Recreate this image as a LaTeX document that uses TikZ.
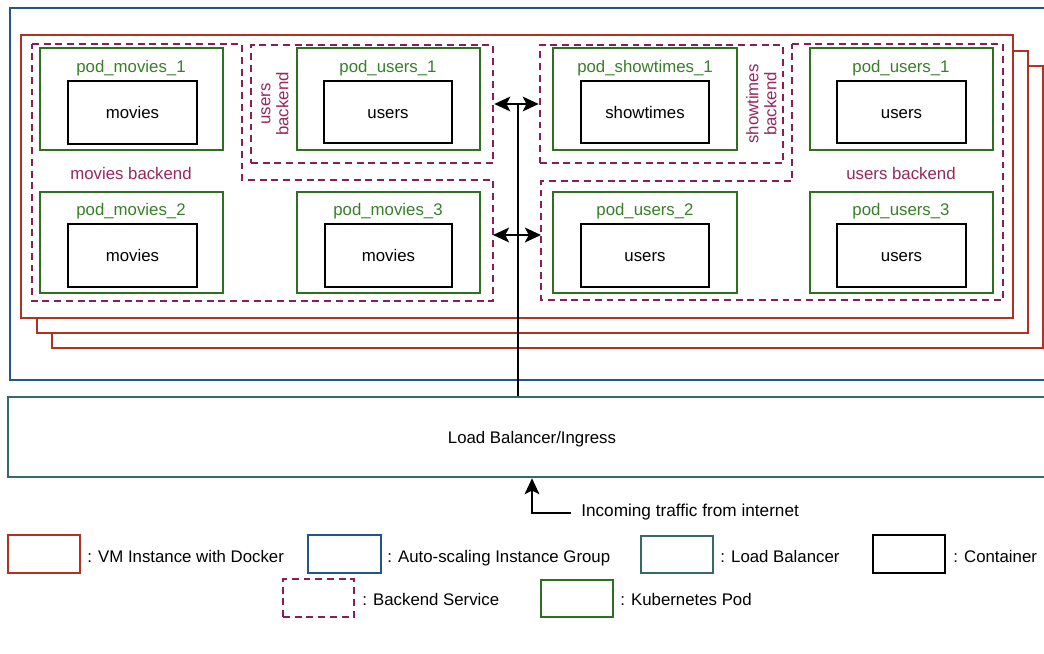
\documentclass[tikz,border=0pt]{standalone}
\usepackage{fontspec}
\setmainfont{Liberation Sans}
\usetikzlibrary{fit,arrows.meta,calc}

\definecolor{vmred}{RGB}{178,50,32}
\definecolor{asgblue}{RGB}{35,85,135}
\definecolor{lbteal}{RGB}{52,106,103}
\definecolor{podgreen}{RGB}{45,112,30}
\definecolor{podtext}{RGB}{55,128,40}
\definecolor{bepurple}{RGB}{135,30,85}
\definecolor{betext}{RGB}{150,40,95}

\tikzset{
  every node/.style={font=\fontsize{12.6pt}{14pt}\selectfont, inner sep=0pt,
                     text height=11pt, text depth=1.6pt},
  vmbox/.style={draw=vmred, line width=1.8pt, fill=white},
  asgbox/.style={draw=asgblue, line width=1.8pt},
  lbbox/.style={draw=lbteal, line width=1.8pt},
  podbox/.style={draw=podgreen, line width=1.8pt},
  ctrbox/.style={draw=black, line width=2.0pt},
  backend/.style={draw=bepurple, line width=1.9pt, dash pattern=on 5.2pt off 3.6pt},
  podlbl/.style={text=podtext},
  belbl/.style={text=betext},
  rotlbl/.style={text=betext, rotate=90},
  flow/.style={line width=1.8pt, draw=black},
  head/.tip={Stealth[length=12pt,width=11pt,inset=2.8pt]},
  tip/.style={-head},
  bitip/.style={head-head},
  legtxt/.style={anchor=west},
}

\begin{document}
\begin{tikzpicture}[x=0.75pt,y=-0.75pt]
\useasboundingbox (0,0) rectangle (1044,653);
\clip (0,0) rectangle (1044,653);

% auto-scaling instance group and load balancer
\node[asgbox, fit={(10,8)(1060,380)}] (asg) {};
\node[lbbox, fit={(8,397)(1056,477)}] (lb) {};
\node (lbt) at (lb.center) {Load Balancer/Ingress};

% stacked VM instances
\node[vmbox, fit={(52,66)(1043,348)}] (vm3) {};
\node[vmbox, fit={(37,51)(1028,333)}] (vm2) {};
\node[vmbox, fit={(21,35)(1013,318)}] (vm1) {};

% backend services
\draw[backend] (32,44) -- (242,44) -- (242,180) -- (493,180) -- (493,301) -- (32,301) -- cycle;
\node[backend, fit={(251,45)(493,163)}] (ubL) {};
\node[backend, fit={(540,45)(783,163)}] (stb) {};
\draw[backend] (792,44) -- (1003,44) -- (1003,300) -- (541,300) -- (541,181) -- (792,181) -- cycle;
\coordinate (mbR) at (493,240);
\coordinate (ubRl) at (541,240);

\node[belbl] (mbl) at (131,173) {movies backend};
\node[belbl] (ubrl) at (901,173) {users backend};
\node[rotlbl] (ubll1) at (264,104) {users};
\node[rotlbl] (ubll2) at (282,104) {backend};
\node[rotlbl] (stbl1) at (752,104) {showtimes};
\node[rotlbl] (stbl2) at (770,104) {backend};

% pods with their containers
\node[podbox, fit={(40,48)(223,150)}] (pm1) {};
\node[ctrbox, fit={(68,81)(197,144)}] (cm1) {};
\node (tm1) at (cm1.center) {movies};
\node[podlbl] (lpm1) at (131,66) {pod\_movies\_1};

\node[podbox, fit={(297,48)(480,150)}] (pu1) {};
\node[ctrbox, fit={(324,81)(452,143)}] (cu1) {};
\node (tu1) at (cu1.center) {users};
\node[podlbl] (lpu1) at (388,66) {pod\_users\_1};

\node[podbox, fit={(553,48)(737,150)}] (ps1) {};
\node[ctrbox, fit={(581,81)(709,143)}] (cs1) {};
\node (ts1) at (cs1.center) {showtimes};
\node[podlbl] (lps1) at (645,66) {pod\_showtimes\_1};

\node[podbox, fit={(810,48)(993,150)}] (pur1) {};
\node[ctrbox, fit={(837,81)(966,143)}] (cur1) {};
\node (tur1) at (cur1.center) {users};
\node[podlbl] (lpur1) at (901,66) {pod\_users\_1};

\node[podbox, fit={(40,192)(223,293)}] (pm2) {};
\node[ctrbox, fit={(68,224)(197,287)}] (cm2) {};
\node (tm2) at (cm2.center) {movies};
\node[podlbl] (lpm2) at (131,209) {pod\_movies\_2};

\node[podbox, fit={(297,192)(480,293)}] (pm3) {};
\node[ctrbox, fit={(325,224)(452,287)}] (cm3) {};
\node (tm3) at (cm3.center) {movies};
\node[podlbl] (lpm3) at (388,209) {pod\_movies\_3};

\node[podbox, fit={(553,192)(737,293)}] (pu2) {};
\node[ctrbox, fit={(581,224)(709,287)}] (cu2) {};
\node (tu2) at (cu2.center) {users};
\node[podlbl] (lpu2) at (645,209) {pod\_users\_2};

\node[podbox, fit={(810,192)(993,293)}] (pu3) {};
\node[ctrbox, fit={(837,224)(966,287)}] (cu3) {};
\node (tu3) at (cu3.center) {users};
\node[podlbl] (lpu3) at (901,209) {pod\_users\_3};

% routing from the load balancer to the backends
\coordinate (j1) at (518,104);
\coordinate (j2) at (518,235);
\draw[flow] (lb.north -| j1) -- (j1);
\draw[flow, bitip] (ubL.east |- j1) -- (stb.west |- j1);
\draw[flow, bitip] (mbR |- j2) -- (ubRl |- j2);

% incoming traffic
\node[anchor=west, font=\fontsize{12.9pt}{14pt}\selectfont] (inc) at (581,510) {Incoming traffic from internet};
\coordinate (bend) at (532,513);
\coordinate (incstart) at ([xshift=-7.5pt]inc.west);
\draw[flow, tip, line join=miter] (incstart |- bend) -- (bend) -- (bend |- lb.south);

% legend
\node[vmbox, fit={(8,535)(80,573)}] (kvm) {};
\node[legtxt] (tvm) at (87,556) {: VM Instance with Docker};
\node[asgbox, fit={(308,535)(381,573)}] (kasg) {};
\node[legtxt] (tasg) at (387,556) {: Auto-scaling Instance Group};
\node[lbbox, fit={(641,536)(713,573)}] (klb) {};
\node[legtxt] (tlb) at (720,556) {: Load Balancer};
\node[ctrbox, fit={(873,535)(945,573)}] (kctr) {};
\node[legtxt] (tctr) at (953,556) {: Container};
\node[backend, fit={(283,579)(354,617)}] (kbe) {};
\node[legtxt] (tbe) at (362,599) {: Backend Service};
\node[podbox, fit={(541,580)(613,617)}] (kpod) {};
\node[legtxt] (tpod) at (620,599) {: Kubernetes Pod};
\end{tikzpicture}
\end{document}
